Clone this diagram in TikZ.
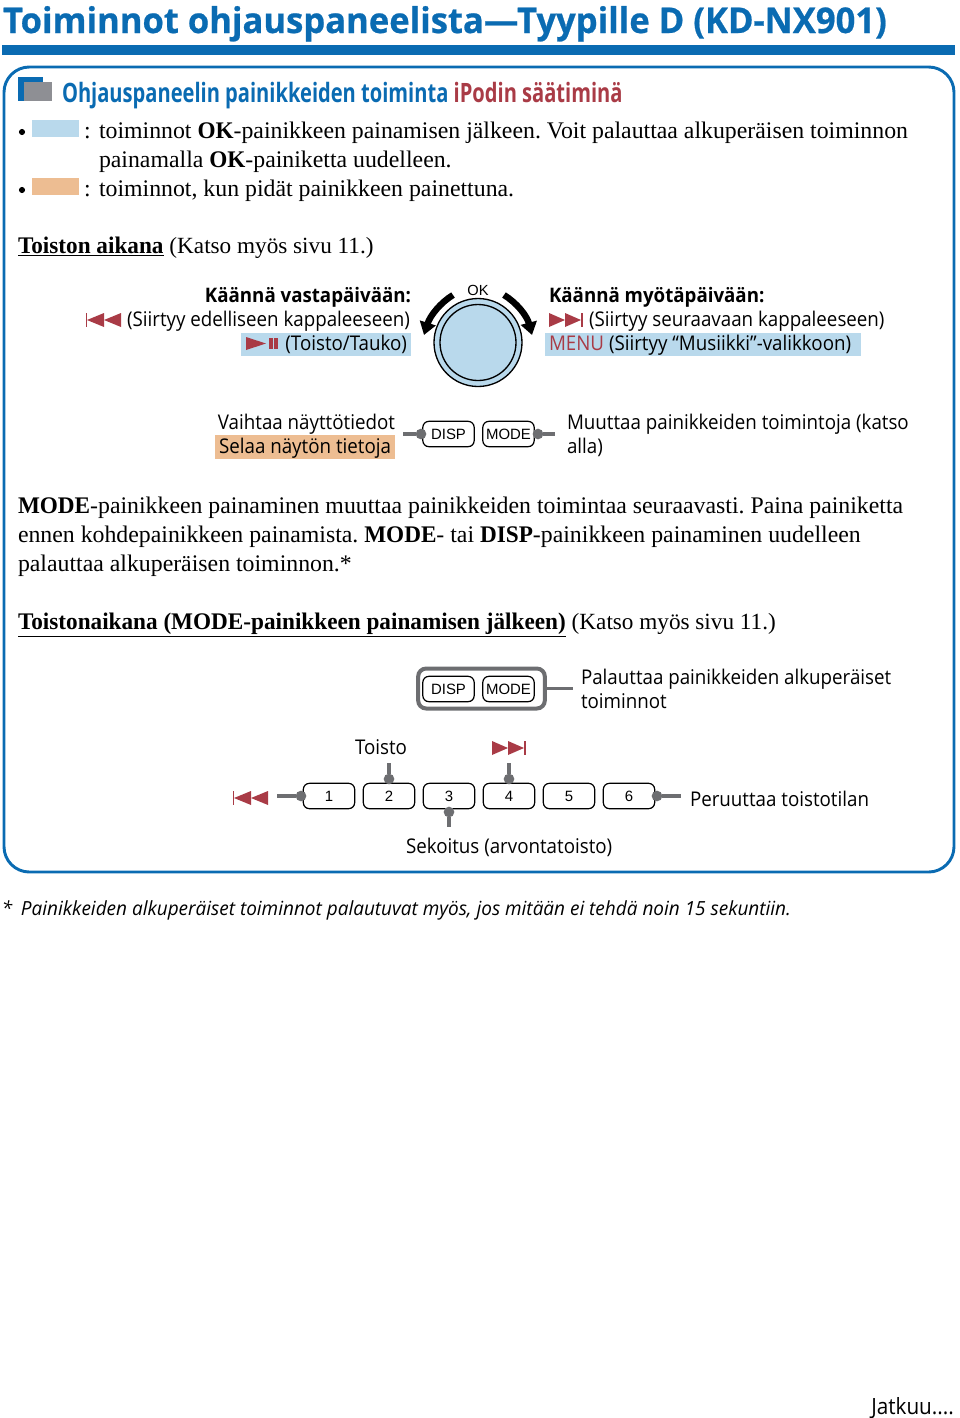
\documentclass[tikz,border=0pt]{standalone}
\usepackage{fontspec}
\setmainfont{Liberation Serif}[BoldFeatures={FakeStretch=0.975}]
\newfontfamily\hum{Open Sans}[FakeStretch=0.925]
\newfontfamily\humbold{Open Sans}[FakeStretch=0.935,UprightFont=* Bold]
\newfontfamily\humtitle{Open Sans}[FakeStretch=0.975,FakeBold=0.6,UprightFont=* Bold]
\newfontfamily\humcond{Open Sans}[FakeStretch=0.754,UprightFont=* Bold]
\newfontfamily\humit{Open Sans}[FakeStretch=0.975,UprightFont=* Italic]
\newfontfamily\helv{Liberation Sans}
\usetikzlibrary{arrows.meta}
\definecolor{jvcblue}{HTML}{0A6BB2}
\definecolor{lblue}{HTML}{B9D9EC}
\definecolor{lorange}{HTML}{EDBD92}
\definecolor{jred}{HTML}{A93B46}
\definecolor{jgrey}{HTML}{6D6E71}
\definecolor{jgrey2}{HTML}{8E8F94}
\newcommand{\smallpar}[1]{{\fontsize{17.4}{20}\selectfont #1}}
\tikzset{
  x=0.75pt,y=-0.75pt,
  every node/.style={inner sep=0pt,outer sep=0pt},
  ser/.style={anchor=base west,font=\frenchspacing\fontsize{17.85}{20}\selectfont},
  san/.style={anchor=base west,font=\hum\fontsize{15.2}{18}\selectfont},
  sanr/.style={anchor=base east,font=\hum\fontsize{15.2}{18}\selectfont},
  btn/.style={draw=black,line width=0.9pt,rounded corners=4.5pt,minimum width=38.5pt,minimum height=19pt,fill=white,font=\helv\fontsize{11.2}{14}\selectfont},
  dot/.style={circle,fill=jgrey,minimum size=8pt},
  lead/.style={draw=jgrey,line width=2.7pt},
  turn/.style={line width=4.8pt,-{Triangle[length=9.5pt,width=12pt]},black},
  bullet/.style={circle,fill=black,minimum size=4.6pt},
}
\newcommand{\prevsym}[2]{%
 \fill[jred] (#1+1,#2-7) -- (#1+1,#2+7) -- (#1-16,#2) -- cycle;
 \fill[jred] (#1+18,#2-7) -- (#1+18,#2+7) -- (#1+1,#2) -- cycle;
 \fill[jred] (#1-17,#2-7) rectangle (#1-16,#2+7);}
\newcommand{\nextsym}[2]{%
 \fill[jred] (#1,#2-7) -- (#1,#2+7) -- (#1+16,#2) -- cycle;
 \fill[jred] (#1+16,#2-7) -- (#1+16,#2+7) -- (#1+32,#2) -- cycle;
 \fill[jred] (#1+32,#2-7) rectangle (#1+33.5,#2+7);}
\begin{document}
\begin{tikzpicture}
\useasboundingbox (0,0) rectangle (960,1418);
% title
\node[anchor=base west,text=jvcblue,font=\humtitle\fontsize{26.6}{30}\selectfont] (title) at (3,33) {Toiminnot ohjauspaneelista—Tyypille D (KD-NX901)};
\fill[jvcblue] (2,45) rectangle (955,55);
\draw[jvcblue,line width=2.2pt,rounded corners=19pt] (4,67) rectangle (954,872);
% heading
\fill[jvcblue] (18,77) rectangle (43,101);
\fill[jgrey2] (24,82) rectangle (52,101);
\node[anchor=base west,text=jvcblue,font=\humcond\fontsize{20}{24}\selectfont] (head) at (62,102) {Ohjauspaneelin painikkeiden toiminta \textcolor{jred}{iPodin säätiminä}};
% legend
\node[bullet] (b1) at (22,132) {};
\node[bullet] (b2) at (22,190) {};
\fill[lblue] (32,120) rectangle (79,137);
\fill[lorange] (32,178) rectangle (79,195);
\node[ser] (c1) at (84,138) {:};
\node[ser] (c2) at (84,196) {:};
\node[ser] (l1) at (99,138) {toiminnot \textbf{OK}-painikkeen painamisen jälkeen. Voit palauttaa alkuperäisen toiminnon};
\node[ser] (l2) at (99,167) {painamalla \textbf{OK}-painiketta uudelleen.};
\node[ser] (l3) at (99,196) {toiminnot, kun pidät painikkeen painettuna.};
\node[ser] (s1) at (18,253) {\textbf{\underline{Toiston aikana}} \smallpar{(Katso myös sivu 11.)}};
% rotary texts
\fill[lblue] (241,333) rectangle (411,356);
\fill[lblue] (545,333) rectangle (861,356);
\node[anchor=base east,font=\humbold\fontsize{15}{18}\selectfont] (ccw) at (411,302) {Käännä vastapäivään:};
\node[sanr] (ccw1) at (410,326) {(Siirtyy edelliseen kappaleeseen)};
\node[sanr] (ccw2) at (407,350) {(Toisto/Tauko)};
\prevsym{103}{320}
\fill[jred] (246,337) -- (246,350) -- (266,343.5) -- cycle;
\fill[jred] (268.5,338) rectangle (272.5,349);
\fill[jred] (274,338) rectangle (278,349);
\node[anchor=base west,font=\humbold\fontsize{15}{18}\selectfont] (cw) at (549,302) {Käännä myötäpäivään:};
\nextsym{549}{320}
\node[san] (cw1) at (589,326) {(Siirtyy seuraavaan kappaleeseen)};
\node[san] (cw2) at (549,350) {\textcolor{jred}{MENU} (Siirtyy “Musiikki”-valikkoon)};
% knob
\node[circle,draw=black,line width=1pt,fill=lblue,minimum size=66pt] (knob) at (478,342.5) {};
\node[circle,draw=black,line width=1pt,minimum size=57pt] (knobin) at (478,342.5) {};
\node[font=\helv\fontsize{11}{13}\selectfont,anchor=base] (ok) at (478,295) {OK};
\coordinate (kla) at (453,295);
\coordinate (klb) at (424,335);
\coordinate (kra) at (504,295);
\coordinate (krb) at (532,335);
\draw[turn] (kla) .. controls (440,303) and (430,316) .. (klb);
\draw[turn] (kra) .. controls (517,303) and (527,316) .. (krb);
% disp / mode
\fill[lorange] (215,435) rectangle (395,459);
\node[sanr] (v1) at (395,429) {Vaihtaa näyttötiedot};
\node[sanr] (v2) at (391,453) {Selaa näytön tietoja};
\node[btn] (disp) at (448.5,434) {DISP};
\node[btn] (mode) at (508.5,434) {MODE};
\node[dot] (dd) at (421,434) {};
\node[dot] (dm) at (538,434) {};
\coordinate (ddend) at (403,434);
\coordinate (dmend) at (555,434);
\draw[lead] (dd) -- (ddend);
\draw[lead] (dm) -- (dmend);
\node[san] (m1) at (567,429) {Muuttaa painikkeiden toimintoja (katso};
\node[san] (m2) at (567,453) {alla)};
% para
\node[ser] (p1) at (18,513) {\textbf{MODE}-painikkeen painaminen muuttaa painikkeiden toimintaa seuraavasti. Paina painiketta};
\node[ser] (p2) at (18,542) {ennen kohdepainikkeen painamista. \textbf{MODE}- tai \textbf{DISP}-painikkeen painaminen uudelleen};
\node[ser] (p3) at (18,571) {palauttaa alkuperäisen toiminnon.*};
\node[ser] (s2) at (18,629) {\textbf{\underline{Toistonaikana (MODE-painikkeen painamisen jälkeen)}} \smallpar{(Katso myös sivu 11.)}};
% lower frame
\node[draw=jgrey,line width=3pt,rounded corners=6pt,minimum width=95pt,minimum height=30pt] (fr) at (481.5,688.5) {};
\node[btn] (disp2) at (448.5,689) {DISP};
\node[btn] (mode2) at (508.5,689) {MODE};
\coordinate (frend) at (573,688.5);
\draw[lead] (fr) -- (frend);
\node[san] (r1) at (581,684) {Palauttaa painikkeiden alkuperäiset};
\node[san] (r2) at (581,708) {toiminnot};
% number row
\foreach \n/\cx in {1/329,2/389,3/449,4/509,5/569,6/629}{
  \node[btn] (n\n) at (\cx,796) {\n};
}
\node[dot] (d1) at (301,796) {};
\node[dot] (d2) at (389,779) {};
\node[dot] (d3) at (449,812) {};
\node[dot] (d4) at (509,779) {};
\node[dot] (d6) at (657,796) {};
\coordinate (e1) at (277,796);
\coordinate (e2) at (389,763);
\coordinate (e3) at (449,827);
\coordinate (e4) at (509,763);
\coordinate (e6) at (681,796);
\draw[lead] (d1) -- (e1);
\draw[lead] (d2) -- (e2);
\draw[lead] (d3) -- (e3);
\draw[lead] (d4) -- (e4);
\draw[lead] (d6) -- (e6);
\prevsym{250}{798}
\nextsym{492}{748}
\node[san] (toisto) at (355,754) {Toisto};
\node[san] (per) at (690,806) {Peruuttaa toistotilan};
\node[san] (sek) at (406,853) {Sekoitus (arvontatoisto)};
% foot
\node[anchor=base west,font=\humit\fontsize{14.6}{18}\selectfont] (star) at (2,915) {*};
\node[anchor=base west,font=\humit\fontsize{14.6}{18}\selectfont] (foot) at (21,915) {Painikkeiden alkuperäiset toiminnot palautuvat myös, jos mitään ei tehdä noin 15 sekuntiin.};
\node[anchor=base east,font=\hum\fontsize{16.8}{18}\selectfont] (jat) at (954,1414) {Jatkuu....};
\end{tikzpicture}
\end{document}
